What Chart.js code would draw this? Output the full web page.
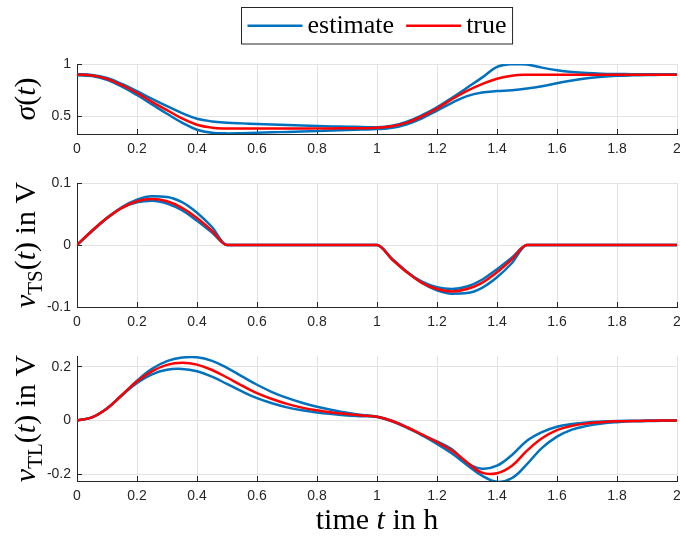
<!DOCTYPE html>
<html>
<head>
<meta charset="utf-8">
<script src="https://cdn.jsdelivr.net/npm/chart.js@4"></script>
<style>
  body { margin: 0; background: #fff; }
  #wrap { position: relative; width: 680px; height: 538px; }
  #wrap canvas { position: absolute; left: 0; top: 0; }
</style>
</head>
<body>
<div id="wrap">
  <canvas id="sigmaChart" width="680" height="538"></canvas>
  <canvas id="vtsChart" width="680" height="538"></canvas>
  <canvas id="vtlChart" width="680" height="538"></canvas>
</div>
<script>
// time in h
const t = [0, 0.05, 0.1, 0.15, 0.2, 0.25, 0.3, 0.35, 0.4, 0.45,
           0.5, 0.55, 0.6, 0.65, 0.7, 0.75, 0.8, 0.85, 0.9, 0.95,
           1, 1.05, 1.1, 1.15, 1.2, 1.25, 1.3, 1.35, 1.4, 1.45,
           1.5, 1.55, 1.6, 1.65, 1.7, 1.75, 1.8, 1.85, 1.9, 1.95,
           2];

// sigma(t)
const sigmaTrue = [0.900, 0.893, 0.860, 0.800, 0.725, 0.640, 0.560, 0.480, 0.420, 0.392,
                   0.384, 0.383, 0.383, 0.383, 0.384, 0.384, 0.385, 0.385, 0.386, 0.386,
                   0.390, 0.405, 0.440, 0.500, 0.575, 0.665, 0.745, 0.810, 0.862, 0.891,
                   0.900, 0.900, 0.900, 0.900, 0.900, 0.900, 0.900, 0.900, 0.900, 0.900,
                   0.900];
const sigmaEstHi = [0.905, 0.898, 0.868, 0.812, 0.742, 0.668, 0.598, 0.532, 0.478, 0.452,
                    0.440, 0.433, 0.427, 0.422, 0.417, 0.412, 0.408, 0.404, 0.401, 0.398,
                    0.396, 0.410, 0.450, 0.512, 0.588, 0.678, 0.775, 0.872, 0.975, 1.003,
                    0.998, 0.968, 0.944, 0.927, 0.916, 0.910, 0.907, 0.905, 0.904, 0.904,
                    0.904];
const sigmaEstLo = [0.895, 0.887, 0.850, 0.785, 0.705, 0.615, 0.525, 0.440, 0.372, 0.342,
                    0.337, 0.339, 0.343, 0.347, 0.351, 0.355, 0.360, 0.365, 0.370, 0.374,
                    0.378, 0.390, 0.425, 0.482, 0.555, 0.630, 0.695, 0.730, 0.743, 0.752,
                    0.768, 0.790, 0.818, 0.845, 0.866, 0.880, 0.889, 0.894, 0.897, 0.899,
                    0.900];

// v_TS(t) in V
const vtsTrue = [0, 0.023, 0.0435, 0.060, 0.0705, 0.074, 0.0705, 0.060, 0.0435, 0.023,
                 0, 0, 0, 0, 0, 0, 0, 0, 0, 0,
                 0, -0.023, -0.044, -0.061, -0.071, -0.075, -0.071, -0.061, -0.044, -0.023,
                 0, 0, 0, 0, 0, 0, 0, 0, 0, 0,
                 0];
const vtsEstHi = [0, 0.022, 0.043, 0.061, 0.073, 0.0785, 0.0775, 0.069, 0.052, 0.029,
                  0, 0, 0, 0, 0, 0, 0, 0, 0, 0,
                  0, -0.022, -0.043, -0.061, -0.073, -0.0785, -0.0775, -0.069, -0.052, -0.029,
                  0, 0, 0, 0, 0, 0, 0, 0, 0, 0,
                  0];
const vtsEstLo = [0, 0.023, 0.044, 0.060, 0.069, 0.0715, 0.067, 0.056, 0.039, 0.020,
                  0, 0, 0, 0, 0, 0, 0, 0, 0, 0,
                  0, -0.023, -0.044, -0.059, -0.068, -0.071, -0.067, -0.056, -0.039, -0.020,
                  0, 0, 0, 0, 0, 0, 0, 0, 0, 0,
                  0];

// v_TL(t) in V
const vtlTrue = [0, 0.012, 0.045, 0.095, 0.145, 0.183, 0.207, 0.215, 0.208, 0.188,
                 0.160, 0.130, 0.102, 0.080, 0.062, 0.048, 0.038, 0.030, 0.024, 0.019,
                 0.014, -0.002, -0.025, -0.052, -0.080, -0.112, -0.155, -0.194, -0.196, -0.168,
                 -0.112, -0.066, -0.036, -0.020, -0.011, -0.006, -0.003, -0.002, -0.001, 0,
                 0];
const vtlEstHi = [0, 0.012, 0.045, 0.095, 0.148, 0.192, 0.221, 0.234, 0.235, 0.222,
                  0.196, 0.164, 0.133, 0.106, 0.084, 0.066, 0.051, 0.039, 0.029, 0.021,
                  0.015, -0.001, -0.025, -0.055, -0.087, -0.123, -0.165, -0.205, -0.228, -0.214,
                  -0.162, -0.102, -0.060, -0.034, -0.020, -0.011, -0.006, -0.003, -0.002, -0.001,
                  0];
const vtlEstLo = [0, 0.012, 0.045, 0.094, 0.140, 0.172, 0.189, 0.192, 0.183, 0.163,
                  0.136, 0.108, 0.083, 0.064, 0.049, 0.038, 0.030, 0.024, 0.019, 0.016,
                  0.013, -0.003, -0.027, -0.053, -0.078, -0.107, -0.158, -0.179, -0.168, -0.128,
                  -0.075, -0.043, -0.023, -0.013, -0.007, -0.004, -0.002, -0.001, 0, 0,
                  0];

const xTicks = [0, 0.2, 0.4, 0.6, 0.8, 1, 1.2, 1.4, 1.6, 1.8, 2];
const sigmaTicks = [0.5, 1];
const vtsTicks = [-0.1, 0, 0.1];
const vtlTicks = [-0.2, 0, 0.2];

const BLUE = '#0072BD';
const RED = '#FF0000';
const AXIS = '#262626';
const GRID = '#e3e3e3';
const SANS = '"Liberation Sans", Arial, sans-serif';
const SERIF = '"Liberation Serif", "Times New Roman", serif';

function toXY(arr) {
  return t.map((x, i) => ({ x: x, y: arr[i] }));
}

function mathFont(p, size) {
  const s = p.sub ? size * 0.7 : size;
  return (p.it ? 'italic ' : '') + s + 'px ' + SERIF;
}

function drawMath(ctx, parts, size) {
  let w = 0;
  parts.forEach(p => { ctx.font = mathFont(p, size); w += ctx.measureText(p.t).width; });
  let x = -w / 2;
  parts.forEach(p => {
    ctx.font = mathFont(p, size);
    ctx.fillText(p.t, x, p.sub ? size * 0.22 : 0);
    x += ctx.measureText(p.t).width;
  });
}

// axis labels with subscripts / italics
const mathLabels = {
  id: 'mathLabels',
  afterDraw(chart, args, opts) {
    const ctx = chart.ctx, a = chart.chartArea;
    ctx.save();
    ctx.fillStyle = '#000';
    ctx.textBaseline = 'alphabetic';
    ctx.textAlign = 'left';
    if (opts.y) {
      ctx.save();
      ctx.translate(opts.yBase, (a.top + a.bottom) / 2);
      ctx.rotate(-Math.PI / 2);
      drawMath(ctx, opts.y, opts.size);
      ctx.restore();
    }
    if (opts.x) {
      ctx.save();
      ctx.translate((a.left + a.right) / 2, opts.xBase);
      drawMath(ctx, opts.x, opts.size);
      ctx.restore();
    }
    ctx.restore();
  }
};

// boxed legend centred over the plot area
const legendBox = {
  id: 'legendBox',
  afterDraw(chart, args, opts) {
    if (!opts.display) return;
    const ctx = chart.ctx, a = chart.chartArea;
    const items = chart.data.datasets.filter(d => d.inLegend);
    const lineLen = 55, gap = 5, itemGap = 12, pad = 6;
    ctx.save();
    ctx.font = opts.size + 'px ' + SERIF;
    const widths = items.map(d => ctx.measureText(d.label).width);
    const total = pad * 2 + items.length * (lineLen + gap) +
      widths.reduce((s, w) => s + w, 0) + itemGap * (items.length - 1);
    const left = Math.round((a.left + a.right) / 2 - total / 2) + 0.5;
    ctx.fillStyle = '#fff';
    ctx.fillRect(left, opts.top, total, opts.height);
    ctx.strokeStyle = AXIS;
    ctx.lineWidth = 1;
    ctx.strokeRect(left, opts.top, total, opts.height);
    const cy = opts.top + opts.height / 2;
    let x = left + pad;
    ctx.textBaseline = 'middle';
    ctx.textAlign = 'left';
    items.forEach((d, i) => {
      ctx.strokeStyle = d.borderColor;
      ctx.lineWidth = 2.5;
      ctx.beginPath();
      ctx.moveTo(x, cy);
      ctx.lineTo(x + lineLen, cy);
      ctx.stroke();
      x += lineLen + gap;
      ctx.fillStyle = '#000';
      ctx.fillText(d.label, x, cy);
      x += widths[i] + itemGap;
    });
    ctx.restore();
  }
};

function makePanel(id, cfg) {
  return new Chart(document.getElementById(id), {
    type: 'line',
    data: {
      datasets: [
        { label: 'estimate', data: toXY(cfg.hi), borderColor: BLUE, order: 1, inLegend: true },
        { label: 'estimate', data: toXY(cfg.lo), borderColor: BLUE, order: 1 },
        { label: 'true', data: toXY(cfg.truth), borderColor: RED, order: 0, inLegend: true }
      ]
    },
    options: {
      responsive: false,
      animation: false,
      devicePixelRatio: 1,
      layout: { padding: { top: cfg.top, bottom: 538 - cfg.bottom - 20, left: 0, right: 3 } },
      elements: {
        point: { radius: 0 },
        line: {
          borderWidth: 2.5,
          tension: cfg.tension,
          cubicInterpolationMode: cfg.mode,
          borderJoinStyle: 'round',
          borderCapStyle: 'round',
          fill: false
        }
      },
      plugins: {
        legend: { display: false },
        tooltip: { enabled: false },
        mathLabels: { y: cfg.ylabel, x: cfg.xlabel, yBase: 35, xBase: 529, size: 30 },
        legendBox: { display: !!cfg.legend, size: 26, top: 7.5, height: 36.5 }
      },
      scales: {
        x: {
          type: 'linear',
          min: 0,
          max: 2,
          afterBuildTicks: s => { s.ticks = xTicks.map(v => ({ value: v })); },
          afterFit: s => { s.height = 20; s.paddingLeft = 0; s.paddingRight = 0; },
          grid: { color: GRID, tickColor: AXIS, tickLength: -5 },
          border: { color: AXIS, width: 1 },
          ticks: {
            autoSkip: false, maxRotation: 0, padding: 12, color: AXIS,
            font: { family: SANS, size: 14 },
            callback: v => String(v)
          }
        },
        y: {
          min: cfg.ymin,
          max: cfg.ymax,
          afterBuildTicks: s => { s.ticks = cfg.yTicks.map(v => ({ value: v })); },
          afterFit: s => { s.width = 77; },
          grid: { color: GRID, tickColor: AXIS, tickLength: -5 },
          border: { color: AXIS, width: 1 },
          ticks: {
            padding: 11, color: AXIS,
            font: { family: SANS, size: 14 },
            callback: v => String(v)
          }
        }
      }
    },
    plugins: [mathLabels, legendBox]
  });
}

makePanel('sigmaChart', {
  hi: sigmaEstHi, lo: sigmaEstLo, truth: sigmaTrue,
  top: 64, bottom: 134, ymin: 0.331, ymax: 1.003, yTicks: sigmaTicks,
  tension: 0.4, mode: 'default', legend: true,
  ylabel: [{ t: '\u03c3', it: true }, { t: '(' }, { t: 't', it: true }, { t: ')' }]
});

makePanel('vtsChart', {
  hi: vtsEstHi, lo: vtsEstLo, truth: vtsTrue,
  top: 183, bottom: 307, ymin: -0.1, ymax: 0.1, yTicks: vtsTicks,
  tension: 0, mode: 'monotone',
  ylabel: [{ t: 'v', it: true }, { t: 'TS', sub: true }, { t: '(' }, { t: 't', it: true }, { t: ')' }, { t: ' in V' }]
});

makePanel('vtlChart', {
  hi: vtlEstHi, lo: vtlEstLo, truth: vtlTrue,
  top: 356, bottom: 481, ymin: -0.225, ymax: 0.24, yTicks: vtlTicks,
  tension: 0.4, mode: 'default',
  ylabel: [{ t: 'v', it: true }, { t: 'TL', sub: true }, { t: '(' }, { t: 't', it: true }, { t: ')' }, { t: ' in V' }],
  xlabel: [{ t: 'time ' }, { t: 't', it: true }, { t: ' in h' }]
});
</script>
</body>
</html>
